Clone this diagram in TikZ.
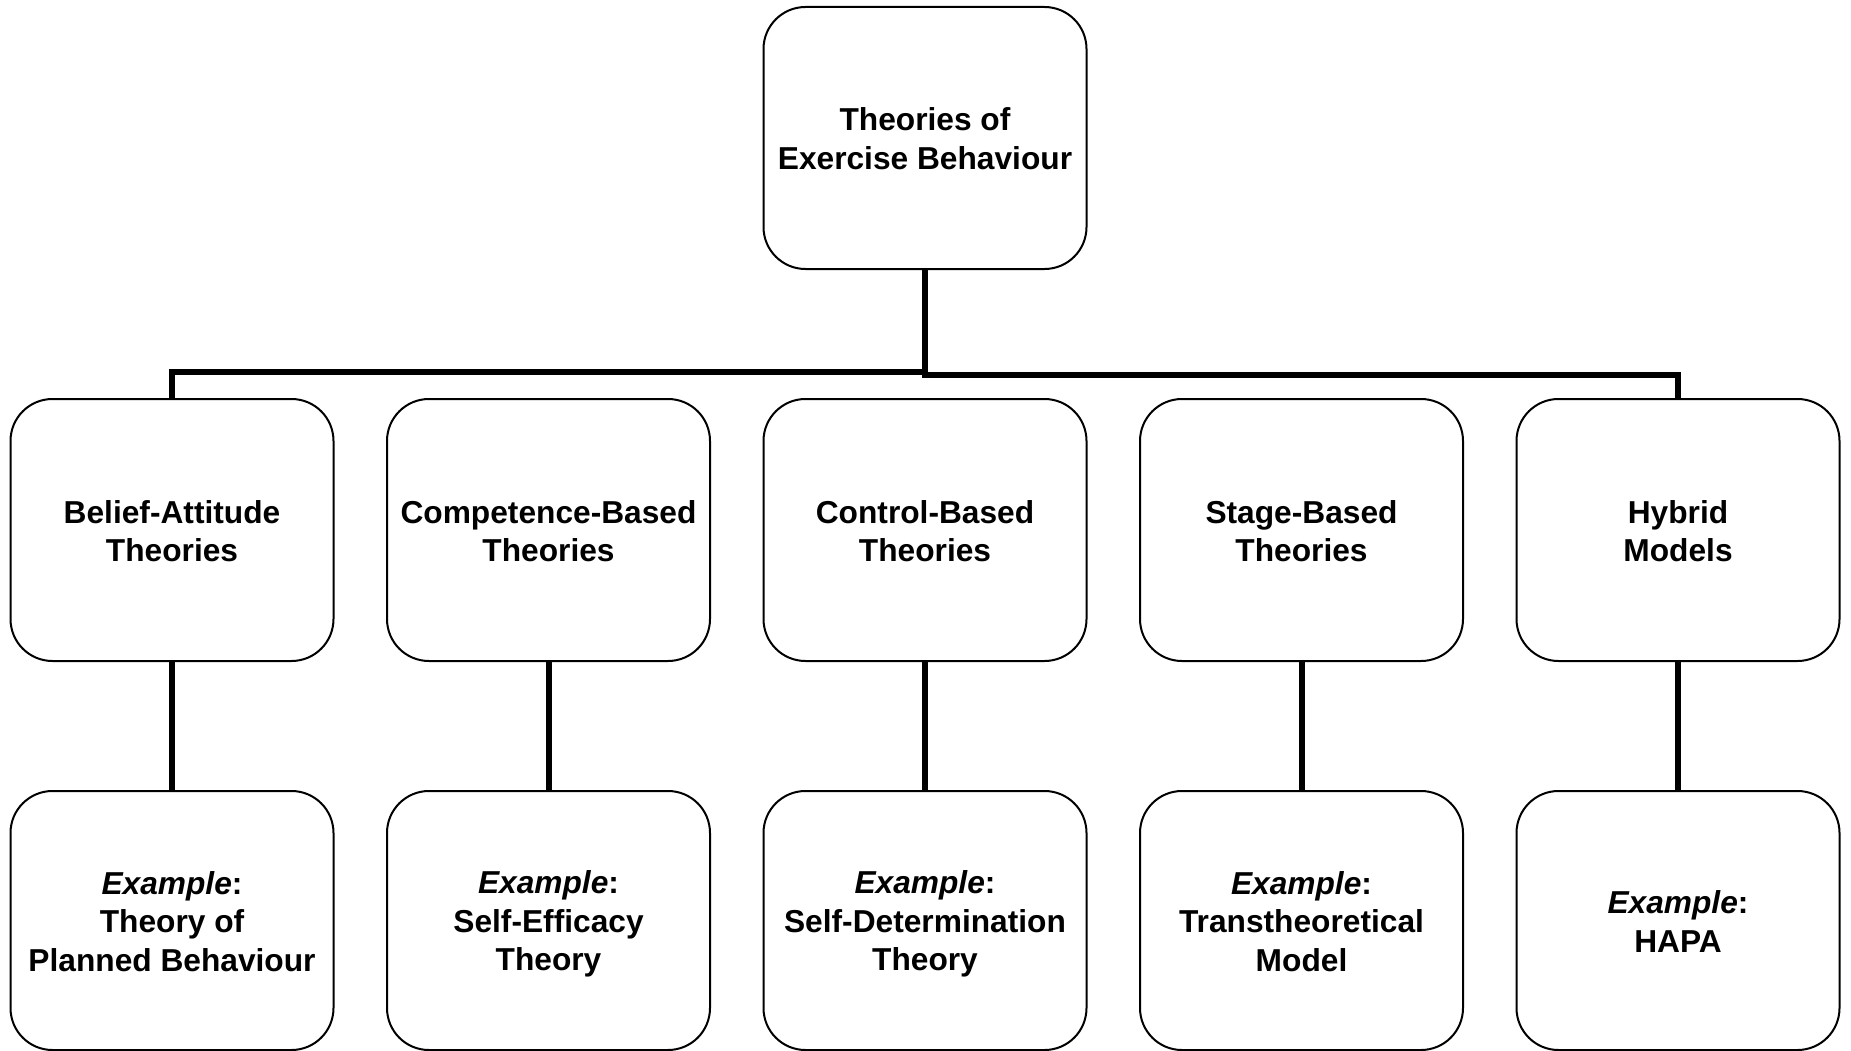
\documentclass[tikz,border=0pt]{standalone}
\usepackage{fontspec}
\setmainfont{Liberation Sans}
% fixed line height so every label sits at the same place in its box
\newcommand\lnstrut{\rule[-5.5pt]{0pt}{35.5pt}}
\begin{document}
\begin{tikzpicture}[x=1pt,y=-1pt,
  box/.style={draw=black, line width=2pt, rounded corners=42pt,
    minimum width=323pt, inner sep=0pt, align=center, fill=white,
    font=\fontsize{31.7}{38.5}\selectfont\bfseries},
  tallbox/.style={box, minimum height=262pt},
  lowbox/.style={box, minimum height=259pt},
  conn/.style={draw=black, line width=6pt}]
\useasboundingbox (0,0) rectangle (1851,1051);

% root
\node[tallbox] (top) at (925,138) {\lnstrut Theories of\\\lnstrut Exercise Behaviour};

% theory families
\node[tallbox] (m1) at (172,530)    {\lnstrut Belief-Attitude\\\lnstrut Theories};
\node[tallbox] (m2) at (548.5,530)  {\lnstrut Competence-Based\\\lnstrut Theories};
\node[tallbox] (m3) at (925,530)    {\lnstrut Control-Based\\\lnstrut Theories};
\node[tallbox] (m4) at (1301.5,530) {\lnstrut Stage-Based\\\lnstrut Theories};
\node[tallbox] (m5) at (1678,530)   {\lnstrut Hybrid\\\lnstrut Models};

% examples
\node[lowbox] (b1) at (172,920.5)    {\lnstrut\textit{Example}:\\\lnstrut Theory of\\\lnstrut Planned Behaviour};
\node[lowbox] (b2) at (548.5,920.5)  {\lnstrut\textit{Example}:\\\lnstrut Self-Efficacy\\\lnstrut Theory};
\node[lowbox] (b3) at (925,920.5)    {\lnstrut\textit{Example}:\\\lnstrut Self-Determination\\\lnstrut Theory};
\node[lowbox] (b4) at (1301.5,920.5) {\lnstrut\textit{Example}:\\\lnstrut Transtheoretical\\\lnstrut Model};
\node[lowbox] (b5) at (1678,920.5)   {\lnstrut\textit{Example}:\\\lnstrut HAPA};

% bus from the root
\coordinate (busl) at (925,372);
\coordinate (busr) at (925,374.5);
\draw[conn] (top.south) -- (busl) -| (m1.north);
\draw[conn] (top.south) -- (busr) -| (m5.north);

% family to example
\foreach \i in {1,...,5}
  \draw[conn] (m\i.south) -- (b\i.north);
\end{tikzpicture}
\end{document}
